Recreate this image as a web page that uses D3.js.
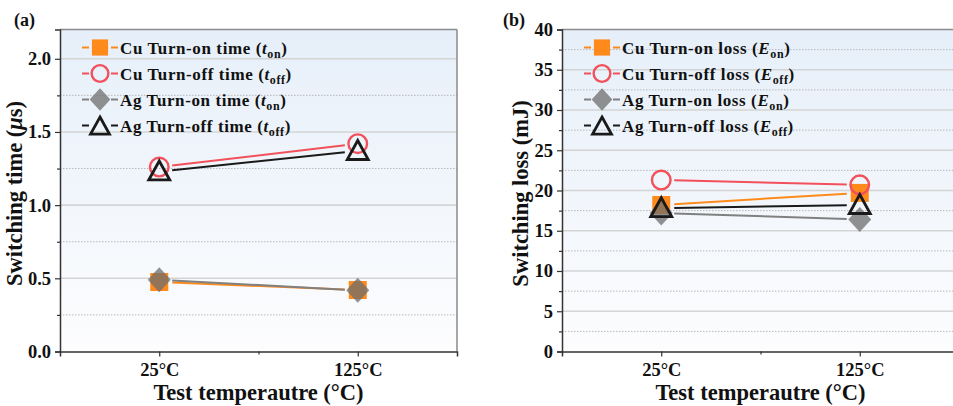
<!DOCTYPE html>
<html>
<head>
<meta charset="utf-8">
<script src="https://cdn.jsdelivr.net/npm/d3@7"></script>
<style>
  html, body { margin: 0; padding: 0; background: #fff; }
  svg { display: block; font-family: "Liberation Serif", "Times New Roman", serif; }
</style>
</head>
<body>
<svg id="chart" width="953" height="406"></svg>
<script>
// Test temperatures (categories on the x axis)
const temperatures = ["25°C", "125°C"];

// Panel (a): switching time, µs
const cuTurnOnTime  = [0.475, 0.42];
const cuTurnOffTime = [1.26, 1.42];
const agTurnOnTime  = [0.49, 0.418];
const agTurnOffTime = [1.23, 1.37];
const timeTicks = [0, 0.5, 1.0, 1.5, 2.0];

// Panel (b): switching loss, mJ
const cuTurnOnLoss  = [18.2, 19.7];
const cuTurnOffLoss = [21.3, 20.7];
const agTurnOnLoss  = [17.2, 16.4];
const agTurnOffLoss = [17.8, 18.2];
const lossTicks = [0, 5, 10, 15, 20, 25, 30, 35, 40];

const COLORS = { cuOn: "#ff8a1c", cuOff: "#f2505a", agOn: "#808080", agOff: "#1a1a1a" };
const DIAMOND_FILL = "#6e6e6e";

const svg = d3.select("#chart");
const defs = svg.append("defs");
const grad = defs.append("linearGradient").attr("id", "bg").attr("x1", 0).attr("y1", 0).attr("x2", 0).attr("y2", 1);
grad.append("stop").attr("offset", "0%").attr("stop-color", "#e6eff9");
grad.append("stop").attr("offset", "100%").attr("stop-color", "#fdfdfe");

// symbol outlines, centred on (0,0)
function markerPath(type, s) {
  const p = d3.path();
  if (type === "square") {
    const h = 9 * s; p.rect(-h, -h, 2 * h, 2 * h);
  } else if (type === "circle") {
    p.arc(0, 0, 9.3 * s, 0, 2 * Math.PI);
  } else if (type === "diamond") {
    const rx = 11.5 * s, ry = 12.5 * s;
    p.moveTo(0, -ry); p.lineTo(rx, 0); p.lineTo(0, ry); p.lineTo(-rx, 0); p.closePath();
  } else {
    const w = 10.5 * s;
    p.moveTo(0, -10.5 * s); p.lineTo(w, 8.5 * s); p.lineTo(-w, 8.5 * s); p.closePath();
  }
  return p.toString();
}

function drawMarker(g, type, color, x, y, scale) {
  const s = scale || 1;
  const m = g.append("path").attr("d", markerPath(type, s)).attr("transform", `translate(${x},${y})`);
  if (type === "square") m.attr("fill", color);
  else if (type === "circle") m.attr("fill", "none").attr("stroke", color).attr("stroke-width", 2.4);
  else if (type === "diamond") m.attr("fill", DIAMOND_FILL).attr("fill-opacity", 0.75);
  else m.attr("fill", "none").attr("stroke", color).attr("stroke-width", 2.8).attr("stroke-linejoin", "miter");
}

function panel(opt) {
  const { left, top, width, height, yMax, yTicks, yMinorStep, series, yTitle, yTitleX, label, labelX, legendX, fmt } = opt;
  const g = svg.append("g");
  const x = d3.scaleLinear().domain([0.5, 2.5]).range([left, left + width]);
  const y = d3.scaleLinear().domain([0, yMax]).range([top + height, top]);

  g.append("rect").attr("x", left).attr("y", top).attr("width", width).attr("height", height).attr("fill", "url(#bg)");

  // minor dotted grid
  const minor = d3.range(yMinorStep, yMax, yMinorStep * 2);
  g.selectAll(".minor").data(minor).join("line")
    .attr("x1", left).attr("x2", left + width).attr("y1", d => y(d)).attr("y2", d => y(d))
    .attr("stroke", "#b8b8b8").attr("stroke-width", 1).attr("stroke-dasharray", "1.5,1.5");
  // major solid grid
  g.selectAll(".major").data(yTicks.filter(d => d > 0 && d < yMax)).join("line")
    .attr("x1", left).attr("x2", left + width).attr("y1", d => y(d)).attr("y2", d => y(d))
    .attr("stroke", "#d4d4d4").attr("stroke-width", 1.6);

  // frame
  g.append("line").attr("x1", left).attr("x2", left + width).attr("y1", top).attr("y2", top)
    .attr("stroke", "#8a8a8a").attr("stroke-width", 1.5);
  g.append("line").attr("x1", left + width).attr("x2", left + width).attr("y1", top).attr("y2", top + height)
    .attr("stroke", "#8a8a8a").attr("stroke-width", 1.5);

  // y axis
  const yAxis = d3.axisLeft(y).tickValues(yTicks).tickSize(5).tickPadding(4).tickFormat(fmt);
  const ya = g.append("g").attr("transform", `translate(${left},0)`).call(yAxis);
  ya.attr("font-size", 18.5).attr("font-family", "Liberation Serif, serif");
  ya.select(".domain").attr("stroke", "#333").attr("stroke-width", 1.5);
  ya.selectAll(".tick line").attr("stroke", "#333").attr("stroke-width", 1.2);
  ya.selectAll("text").attr("font-weight", "bold").attr("fill", "#111");
  const yMinorAxis = d3.axisLeft(y).tickValues(minor).tickSize(3).tickFormat("");
  const ym = g.append("g").attr("transform", `translate(${left},0)`).call(yMinorAxis);
  ym.select(".domain").remove();
  ym.selectAll(".tick line").attr("stroke", "#333").attr("stroke-width", 1.2);

  // x axis
  const xAxis = d3.axisBottom(x).tickValues([1, 2]).tickSize(5).tickPadding(6).tickFormat((d, i) => temperatures[i]);
  const xa = g.append("g").attr("transform", `translate(0,${top + height})`).call(xAxis);
  xa.attr("font-size", 18.5).attr("font-family", "Liberation Serif, serif");
  xa.select(".domain").attr("stroke", "#333").attr("stroke-width", 1.5);
  xa.selectAll(".tick line").attr("stroke", "#333").attr("stroke-width", 1.2);
  xa.selectAll("text").attr("font-weight", "bold").attr("fill", "#111");
  const xm = g.append("g").attr("transform", `translate(0,${top + height})`)
    .call(d3.axisBottom(x).tickValues([1.5]).tickSize(3).tickFormat(""));
  xm.select(".domain").remove();
  xm.selectAll(".tick line").attr("stroke", "#333").attr("stroke-width", 1.2);

  // connecting lines with a gap at each symbol
  const gap = 13;
  series.forEach(s => {
    const p0 = [x(1), y(s.values[0])], p1 = [x(2), y(s.values[1])];
    const dx = p1[0] - p0[0], dy = p1[1] - p0[1], len = Math.hypot(dx, dy);
    const ux = dx / len, uy = dy / len;
    g.append("line")
      .attr("x1", p0[0] + ux * gap).attr("y1", p0[1] + uy * gap)
      .attr("x2", p1[0] - ux * gap).attr("y2", p1[1] - uy * gap)
      .attr("stroke", s.color).attr("stroke-width", 2);
  });
  // symbols
  series.forEach(s => {
    s.values.forEach((v, i) => drawMarker(g, s.type, s.color, x(i + 1), y(v)));
  });

  // legend
  series.forEach((s, i) => {
    const ly = top + 18 + i * 26;
    const cx = legendX;
    g.append("line").attr("x1", cx - 18).attr("x2", cx - 11).attr("y1", ly).attr("y2", ly)
      .attr("stroke", s.color).attr("stroke-width", 2);
    g.append("line").attr("x1", cx + 11).attr("x2", cx + 18).attr("y1", ly).attr("y2", ly)
      .attr("stroke", s.color).attr("stroke-width", 2);
    drawMarker(g, s.type, s.color, cx, ly + (s.type === "triangle" ? 1 : 0), 0.9);
    const t = g.append("text").attr("x", cx + 20).attr("y", ly + 6)
      .attr("font-size", 17).attr("font-weight", "bold").attr("fill", "#111").attr("letter-spacing", 0.6);
    t.append("tspan").text(s.name + " (");
    t.append("tspan").attr("font-style", "italic").text(s.sym);
    t.append("tspan").attr("font-size", 12).attr("dy", 4).text(s.sub);
    t.append("tspan").attr("dy", -4).text(")");
  });

  // axis titles
  const yt = svg.append("text").attr("transform", `translate(${yTitleX},${top + height / 2 + 3}) rotate(-90)`)
    .attr("text-anchor", "middle").attr("font-size", 22.5).attr("font-weight", "bold").attr("fill", "#111");
  yTitle(yt);
  svg.append("text").attr("x", left + width / 2).attr("y", 400).attr("text-anchor", "middle")
    .attr("font-size", 22.5).attr("font-weight", "bold").attr("fill", "#111").text("Test temperautre (°C)");
  svg.append("text").attr("x", labelX).attr("y", 26).attr("font-size", 18).attr("font-weight", "bold")
    .attr("fill", "#111").text(label);
}

panel({
  left: 60, top: 29.5, width: 397, height: 322, yMax: 2.2, yTicks: timeTicks, yMinorStep: 0.25,
  fmt: d3.format(".1f"), label: "(a)", labelX: 14, legendX: 100, yTitleX: 22,
  yTitle: t => { t.append("tspan").text("Switching time ("); t.append("tspan").attr("font-style", "italic").text("μ"); t.append("tspan").text("s)"); },
  series: [
    { name: "Cu Turn-on time", sym: "t", sub: "on", values: cuTurnOnTime, color: COLORS.cuOn, type: "square" },
    { name: "Cu Turn-off time", sym: "t", sub: "off", values: cuTurnOffTime, color: COLORS.cuOff, type: "circle" },
    { name: "Ag Turn-on time", sym: "t", sub: "on", values: agTurnOnTime, color: COLORS.agOn, type: "diamond" },
    { name: "Ag Turn-off time", sym: "t", sub: "off", values: agTurnOffTime, color: COLORS.agOff, type: "triangle" }
  ]
});

panel({
  left: 562, top: 29.5, width: 397, height: 322, yMax: 40, yTicks: lossTicks, yMinorStep: 2.5,
  fmt: d3.format("d"), label: "(b)", labelX: 503, legendX: 602, yTitleX: 528,
  yTitle: t => { t.text("Switching loss (mJ)"); },
  series: [
    { name: "Cu Turn-on loss", sym: "E", sub: "on", values: cuTurnOnLoss, color: COLORS.cuOn, type: "square" },
    { name: "Cu Turn-off loss", sym: "E", sub: "off", values: cuTurnOffLoss, color: COLORS.cuOff, type: "circle" },
    { name: "Ag Turn-on loss", sym: "E", sub: "on", values: agTurnOnLoss, color: COLORS.agOn, type: "diamond" },
    { name: "Ag Turn-off loss", sym: "E", sub: "off", values: agTurnOffLoss, color: COLORS.agOff, type: "triangle" }
  ]
});
</script>
</body>
</html>
